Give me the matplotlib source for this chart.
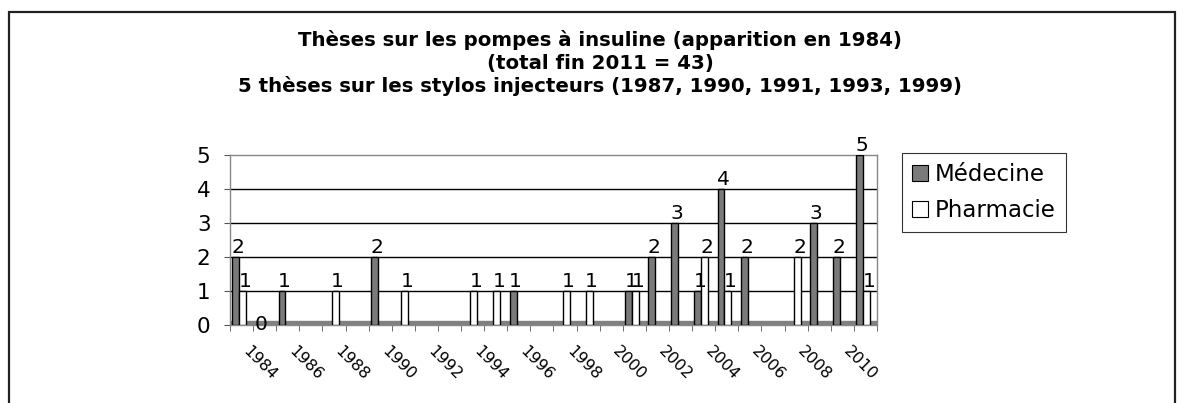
import matplotlib
matplotlib.use("Agg")
import matplotlib.pyplot as plt
from matplotlib.patches import Patch, Rectangle
import numpy as np

plt.rcParams['font.family'] = ['DejaVu Sans']

years = list(range(1984, 2012))
medecine = [2, 0, 1, None, None, None, 2, None, None, None, None, None, 1, None,
            None, None, None, 1, 2, 3, 1, 4, 2, None, None, 3, 2, 5]
pharmacie = [1, None, None, None, 1, None, None, 1, None, None, 1, 1, None, None,
             1, 1, None, 1, None, None, 2, 1, None, None, 2, None, None, 1]
series_names = ["Médecine", "Pharmacie"]
title_lines = ["Thèses sur les pompes à insuline (apparition en 1984)",
               "(total fin 2011 = 43)",
               "5 thèses sur les stylos injecteurs (1987, 1990, 1991, 1993, 1999)"]

W, H = 1184, 403
fig = plt.figure(figsize=(W / 100, H / 100), dpi=100)

# outer chart frame
fig.patches.append(Rectangle((9 / W, -0.05), (1175 - 9) / W, 1.05 - 12 / H,
                             transform=fig.transFigure, fill=False,
                             edgecolor='#222222', linewidth=1.6))

x0, x1, ytop, ybot = 230, 877, 155, 325
ax = fig.add_axes([x0 / W, 1 - ybot / H, (x1 - x0) / W, (ybot - ytop) / H])

n = len(years)
idx = np.arange(n)
bw = 0.30
med_x = idx + 0.25
pha_x = idx + 0.55
med_c = '#7a7a7a'

for xs, vals, col in [(med_x, medecine, med_c), (pha_x, pharmacie, 'white')]:
    xv = [x for x, v in zip(xs, vals) if v is not None]
    vv = [v for v in vals if v is not None]
    ax.bar(xv, vv, width=bw, color=col, edgecolor='black', linewidth=1.0, zorder=3)
    for x, v in zip(xv, vv):
        ax.text(x + 0.1, v, str(v), ha='center',
                va='bottom' if v > 0 else 'center', fontsize=14.5, zorder=5)

# floor
ax.axhspan(-0.0, 0.13, color='#808080', zorder=2)

ax.set_xlim(0, n)
ax.set_ylim(0, 5)
ax.set_yticks(range(6))
ax.set_yticklabels([str(i) for i in range(6)], fontsize=15.5)
for g in range(1, 5):
    ax.axhline(g, color='black', linewidth=1.0, zorder=1)
ax.set_xticks(np.arange(n + 1), minor=True)
ax.set_xticks(idx[::2] + 0.9)
ax.set_xticklabels([str(y) for y in years[::2]], rotation=-45, ha='left',
                   va='top', rotation_mode='anchor', fontsize=11.5)
ax.tick_params(axis='x', which='major', length=0, pad=13)
ax.tick_params(axis='x', which='minor', length=4, color='#555555')
ax.tick_params(axis='y', length=4, color='#555555', pad=10)
for s in ['top', 'right', 'left', 'bottom']:
    ax.spines[s].set_color('#888888')
    ax.spines[s].set_linewidth(1.0)

for i, line in enumerate(title_lines):
    fig.text(600 / W, 1 - (40 + 23 * i) / H, line, ha='center', va='center',
             fontsize=14.2, fontweight='bold')

handles = [Patch(facecolor=med_c, edgecolor='black', linewidth=0.8),
           Patch(facecolor='white', edgecolor='black', linewidth=0.8)]
leg = fig.legend(handles, series_names, loc='upper left',
                 bbox_to_anchor=(902 / W, 1 - 153 / H), fontsize=16.5,
                 frameon=True, fancybox=False, handlelength=0.7, handleheight=0.7,
                 handletextpad=0.3, borderpad=0.45, labelspacing=0.55,
                 borderaxespad=0)
leg.get_frame().set_edgecolor('black')
leg.get_frame().set_linewidth(0.8)

fig.savefig('out.png', dpi=100)
